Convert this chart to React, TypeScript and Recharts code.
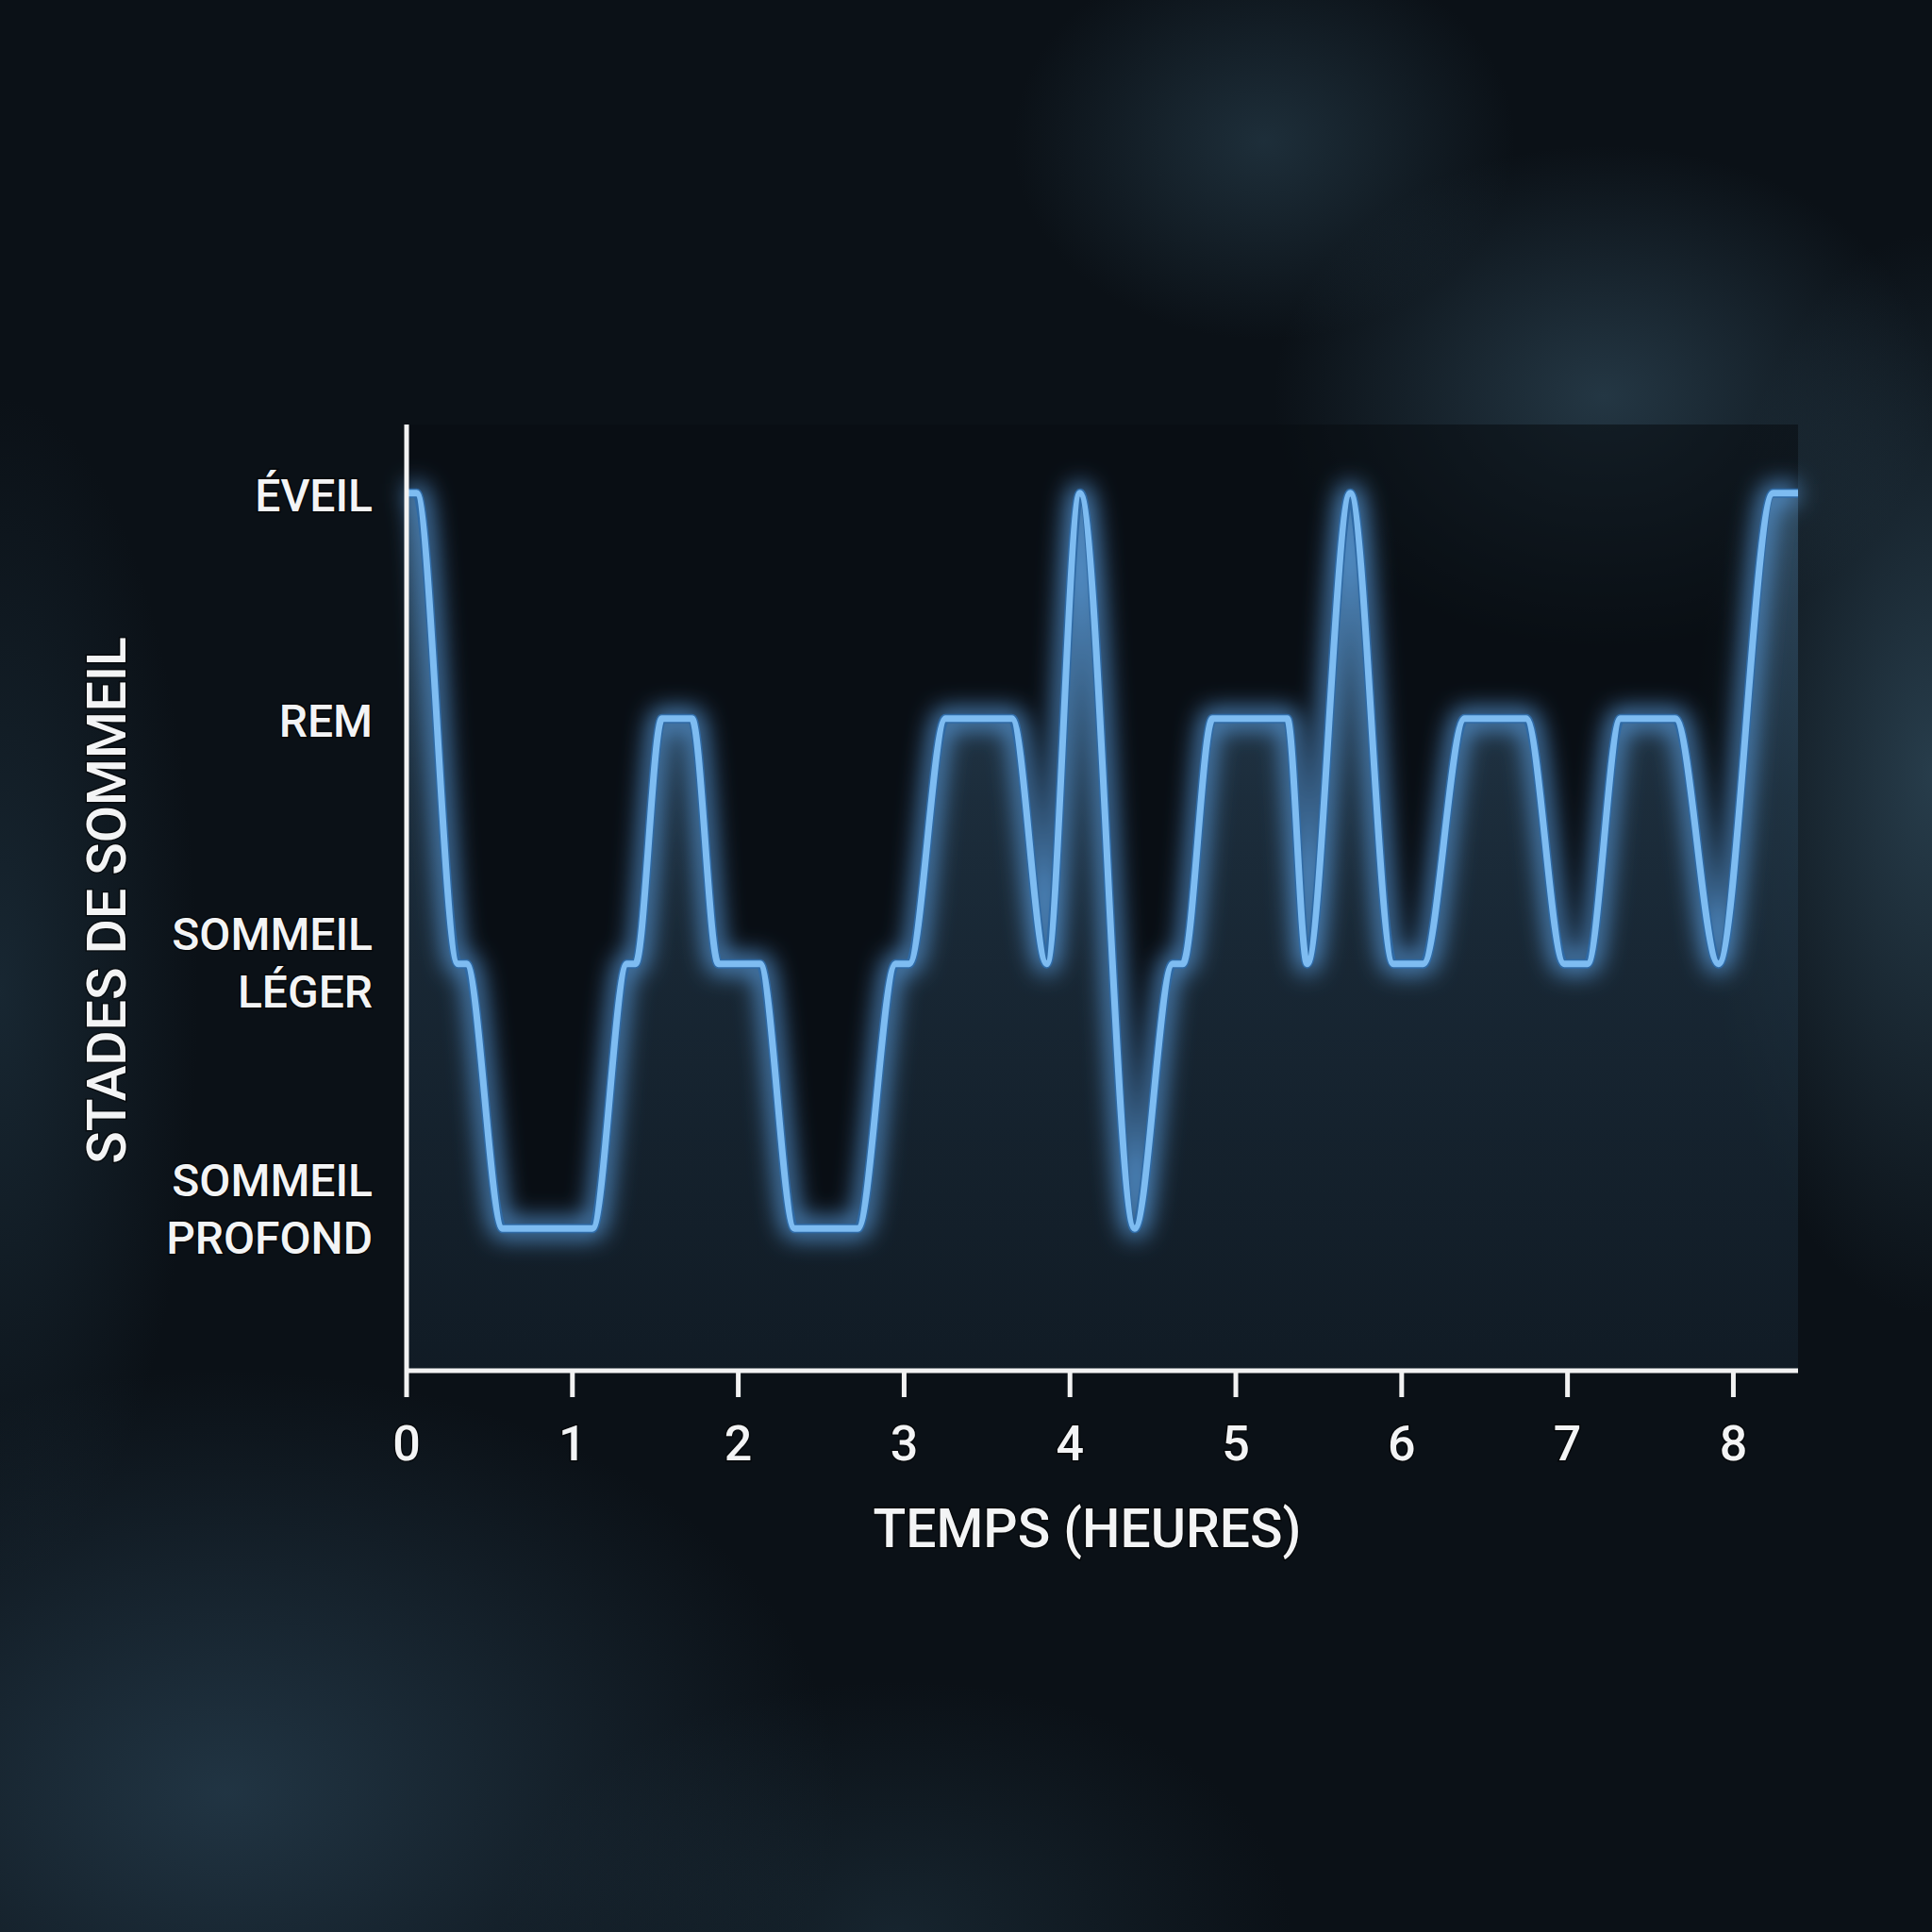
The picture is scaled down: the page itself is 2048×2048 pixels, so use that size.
import React from 'react';
import { ComposedChart, Line, Area, XAxis, YAxis, CartesianGrid } from 'recharts';

const STAGE_LEVEL: Record<string, number> = { P: 1.0, L: 2.08, R: 3.08, E: 4.0 };

// Time (hours) of each turning point of the hypnogram
const HOURS = [
  0, 0.06, 0.31, 0.36, 0.58, 1.12, 1.33, 1.38, 1.54, 1.72,
  1.88, 2.13, 2.34, 2.72, 2.95, 3.03, 3.25, 3.65, 3.86, 4.06,
  4.39, 4.62, 4.68, 4.86, 5.31, 5.43, 5.69, 5.95, 6.13, 6.38,
  6.75, 6.98, 7.12, 7.32, 7.65, 7.91, 8.24, 8.39,
];
// Stage at each point: E = éveil, R = REM, L = léger, P = profond
const STAGES = [
  'E', 'E', 'L', 'L', 'P', 'P', 'L', 'L', 'R', 'R',
  'L', 'L', 'P', 'P', 'L', 'L', 'R', 'R', 'L', 'E',
  'P', 'L', 'L', 'R', 'R', 'L', 'E', 'L', 'L', 'R',
  'R', 'L', 'L', 'R', 'R', 'L', 'E', 'E',
];

const X_TICKS = [0, 1, 2, 3, 4, 5, 6, 7, 8];
const Y_TICKS = [STAGE_LEVEL.P, STAGE_LEVEL.L, STAGE_LEVEL.R, STAGE_LEVEL.E];
const Y_TICK_LABELS: string[][] = [
  ['SOMMEIL', 'PROFOND'],
  ['SOMMEIL', 'LÉGER'],
  ['REM'],
  ['ÉVEIL'],
];
const X_TITLE = 'TEMPS (HEURES)';
const Y_TITLE = 'STADES DE SOMMEIL';

const data = HOURS.map((h, i) => ({ hour: h, level: STAGE_LEVEL[STAGES[i]] }));

const FONT = 'Roboto, "Noto Sans", sans-serif';
const TEXT_FILL = '#f3f4f5';

const textStyle = {
  fontFamily: FONT,
  fontWeight: 500,
  fill: TEXT_FILL,
  stroke: 'rgba(0,0,0,0.55)',
  strokeWidth: 3,
  paintOrder: 'stroke' as const,
};

const XTick = (props: any) => {
  const { x, y, payload } = props;
  return (
    <text x={x} y={y + 65} textAnchor="middle" fontSize={52} style={textStyle}>
      {payload.value}
    </text>
  );
};

// first-baseline offsets for each y label block (layout only)
const Y_LABEL_FIRST_DY = [-34, -15, 19, 19];

const YTick = (props: any) => {
  const { x, y, payload } = props;
  const idx = Y_TICKS.indexOf(payload.value);
  const lines = Y_TICK_LABELS[idx] || [];
  const first = Y_LABEL_FIRST_DY[idx] ?? 18;
  return (
    <text x={x} y={y + first} textAnchor="end" fontSize={48} style={textStyle}>
      {lines.map((l, i) => (
        <tspan key={i} x={x} dy={i === 0 ? 0 : 61}>
          {l}
        </tspan>
      ))}
    </text>
  );
};

const XTitle = (props: any) => {
  const vb = props.viewBox || {};
  const cx = vb.x + vb.width / 2 - 16;
  return (
    <text x={cx} y={vb.y + 187} textAnchor="middle" fontSize={57} style={textStyle}>
      {X_TITLE}
    </text>
  );
};

const YTitle = (props: any) => {
  const vb = props.viewBox || {};
  const cy = vb.y + vb.height / 2 + 3;
  const bx = 133;
  return (
    <text
      x={bx}
      y={cy}
      textAnchor="middle"
      fontSize={57}
      transform={`rotate(-90, ${bx}, ${cy})`}
      style={textStyle}
    >
      {Y_TITLE}
    </text>
  );
};

const bg = [
  'radial-gradient(ellipse 500px 380px at 1700px 420px, rgba(60,92,112,0.5), rgba(0,0,0,0) 70%)',
  'radial-gradient(ellipse 380px 300px at 1340px 150px, rgba(52,82,100,0.45), rgba(0,0,0,0) 70%)',
  'radial-gradient(ellipse 360px 820px at 2048px 820px, rgba(58,90,110,0.6), rgba(0,0,0,0) 70%)',
  'radial-gradient(ellipse 900px 620px at 240px 1900px, rgba(46,74,94,0.62), rgba(0,0,0,0) 72%)',
  'radial-gradient(ellipse 300px 900px at 0px 1050px, rgba(36,60,76,0.5), rgba(0,0,0,0) 70%)',
  'radial-gradient(ellipse 600px 380px at 950px 2048px, rgba(34,56,70,0.5), rgba(0,0,0,0) 70%)',
  '#0b1117',
].join(', ');

export default function App() {
  return (
    <div
      style={{
        position: 'absolute',
        left: 0,
        top: 0,
        width: 2048,
        height: 2048,
        background: bg,
        overflow: 'hidden',
      }}
    >
      <ComposedChart
        width={2048}
        height={2048}
        data={data}
        margin={{ top: 450, right: 142, bottom: 395, left: 131 }}
      >
        <defs>
          <filter id="lineGlow" x="-10%" y="-20%" width="120%" height="140%">
            <feGaussianBlur stdDeviation="12" />
          </filter>
          <linearGradient id="underFill" x1="0" y1="0" x2="0" y2="1">
            <stop offset="0%" stopColor="#6aa8da" stopOpacity={0.6} />
            <stop offset="35%" stopColor="#5488b0" stopOpacity={0.42} />
            <stop offset="100%" stopColor="#3b6482" stopOpacity={0.26} />
          </linearGradient>
        </defs>
        <CartesianGrid horizontal={false} vertical={false} fill="#090e13" fillOpacity={0.6} />
        <XAxis
          dataKey="hour"
          type="number"
          domain={[0, 8.39]}
          ticks={X_TICKS}
          interval={0}
          height={200}
          axisLine={{ stroke: '#f2f2f2', strokeWidth: 5 }}
          tickLine={{ stroke: '#f2f2f2', strokeWidth: 5 }}
          tickSize={28}
          tick={<XTick />}
          label={<XTitle />}
        />
        <YAxis
          type="number"
          domain={[0.42, 4.28]}
          ticks={Y_TICKS}
          interval={0}
          width={300}
          axisLine={{ stroke: '#f2f2f2', strokeWidth: 5 }}
          tickLine={false}
          tickSize={0}
          tickMargin={36}
          tick={<YTick />}
          label={<YTitle />}
        />
        <Area
          type="monotone"
          dataKey="level"
          baseValue="dataMin"
          stroke="none"
          fill="url(#underFill)"
          isAnimationActive={false}
        />
        <Line
          type="monotone"
          dataKey="level"
          stroke="#5a9fe0"
          strokeWidth={22}
          strokeOpacity={0.8}
          filter="url(#lineGlow)"
          dot={false}
          activeDot={false}
          isAnimationActive={false}
        />
        <Line
          type="monotone"
          dataKey="level"
          stroke="#2f6aa5"
          strokeWidth={10}
          dot={false}
          activeDot={false}
          isAnimationActive={false}
        />
        <Line
          type="monotone"
          dataKey="level"
          stroke="#7ebcf1"
          strokeWidth={7}
          dot={false}
          activeDot={false}
          isAnimationActive={false}
        />
      </ComposedChart>
    </div>
  );
}
